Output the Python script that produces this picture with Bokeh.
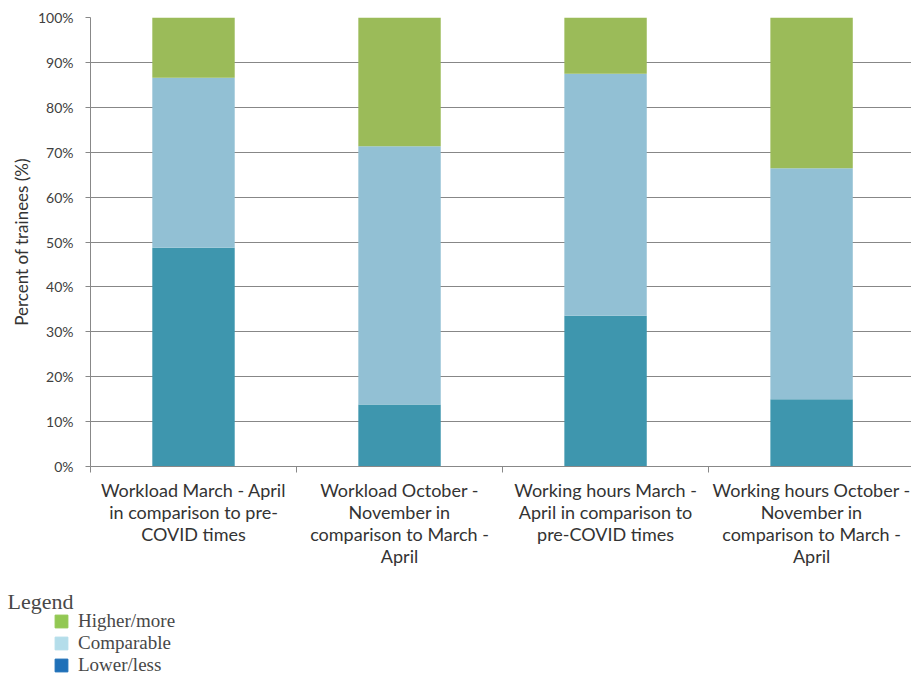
from bokeh.plotting import figure
from bokeh.layouts import column, row
from bokeh.models import Range1d, FixedTicker, Label, Legend, LegendItem, ColumnDataSource
from bokeh.embed import file_html
from bokeh.resources import INLINE

categories = [
    "Workload March - April\nin comparison to pre-\nCOVID times",
    "Workload October -\nNovember in\ncomparison to March -\nApril",
    "Working hours March -\nApril in comparison to\npre-COVID times",
    "Working hours October -\nNovember in\ncomparison to March -\nApril",
]
lower = [48.7, 13.8, 33.6, 15.0]
comparable = [37.9, 57.5, 53.9, 51.4]
higher = [13.4, 28.7, 12.5, 33.6]
series_names = ["lower", "comparable", "higher"]
bar_colors = ["#3E96AE", "#92C0D4", "#9BBB59"]
legend_labels = ["Higher/more", "Comparable", "Lower/less"]
legend_series = ["higher", "comparable", "lower"]
legend_colors = ["#92C853", "#B4DDEA", "#1F70B8"]
y_ticks = [0, 10, 20, 30, 40, 50, 60, 70, 80, 90, 100]
y_tick_labels = [f"{t}%" for t in y_ticks]

xs = [i + 0.5 for i in range(len(categories))]
source = ColumnDataSource(dict(x=xs, lower=lower, comparable=comparable, higher=higher))

p = figure(frame_width=821, frame_height=449, output_backend="svg", toolbar_location=None,
           x_range=Range1d(0, 3.985), y_range=Range1d(0, 100),
           min_border_left=90, min_border_right=0, min_border_top=17, min_border_bottom=0)
p.outline_line_color = None

p.vbar_stack(series_names, x="x", width=0.4, source=source, color=bar_colors, line_width=0)

# y axis
p.yaxis.ticker = FixedTicker(ticks=y_ticks)
p.yaxis.major_label_overrides = {t: l for t, l in zip(y_ticks, y_tick_labels)}
p.yaxis.axis_line_color = "#888888"
p.yaxis.major_tick_line_color = "#888888"
p.yaxis.major_tick_out = 5
p.yaxis.major_tick_in = 0
p.yaxis.minor_tick_line_color = None
p.yaxis.major_label_text_font = "Lato"
p.yaxis.major_label_text_font_size = "14px"
p.yaxis.major_label_text_color = "#404040"
p.yaxis.major_label_standoff = 12
p.yaxis.axis_label = "Percent of trainees (%)"
p.yaxis.axis_label_text_font = "Lato"
p.yaxis.axis_label_text_font_size = "17px"
p.yaxis.axis_label_text_font_style = "normal"
p.yaxis.axis_label_text_color = "#333333"
p.yaxis.axis_label_standoff = 3

p.ygrid.ticker = FixedTicker(ticks=y_ticks)
p.ygrid.grid_line_color = "#878787"
p.ygrid.grid_line_width = 1
p.xgrid.grid_line_color = None

# x axis
p.xaxis.ticker = FixedTicker(ticks=xs, minor_ticks=list(range(len(categories) + 1)))
p.xaxis.major_label_overrides = {x: c for x, c in zip(xs, categories)}
p.xaxis.axis_line_color = "#888888"
p.xaxis.major_tick_line_color = None
p.xaxis.minor_tick_line_color = "#888888"
p.xaxis.minor_tick_out = 6
p.xaxis.minor_tick_in = 0
p.xaxis.major_label_text_font = "Lato"
p.xaxis.major_label_text_font_size = "18px"
p.xaxis.major_label_text_color = "#333333"
p.xaxis.major_label_text_line_height = 1.0
p.xaxis.major_label_standoff = 6

# legend panel below the chart
lg = figure(width=911, height=107, output_backend="svg", toolbar_location=None,
            x_range=Range1d(0, 3.985), y_range=Range1d(200, 300),
            x_axis_type=None, y_axis_type=None,
            min_border_left=0, min_border_right=0, min_border_top=0, min_border_bottom=0)
lg.outline_line_color = None
lg.xgrid.grid_line_color = None
lg.ygrid.grid_line_color = None

legend_items = []
for lab, ser, col in zip(legend_labels, legend_series, legend_colors):
    r = lg.vbar(x="x", top=ser, width=0.4, source=source, fill_color=col, line_color=col)
    legend_items.append(LegendItem(label=lab, renderers=[r]))

legend = Legend(items=legend_items, location=(53, 0), orientation="vertical",
                glyph_width=16, glyph_height=16, label_height=22, spacing=0,
                padding=0, margin=0, border_line_color=None, background_fill_alpha=0,
                label_standoff=9, label_text_font="Liberation Serif",
                label_text_font_size="19px", label_text_color="#484848")
lg.add_layout(legend, "center")

lg.add_layout(Label(x=7, y=88, x_units="screen", y_units="screen", text="Legend",
                    text_font="Liberation Serif", text_font_size="22px",
                    text_color="#484848", text_baseline="top"))

layout = column(p, row(lg), spacing=0)
open("out.html", "w").write(file_html(layout, INLINE))
